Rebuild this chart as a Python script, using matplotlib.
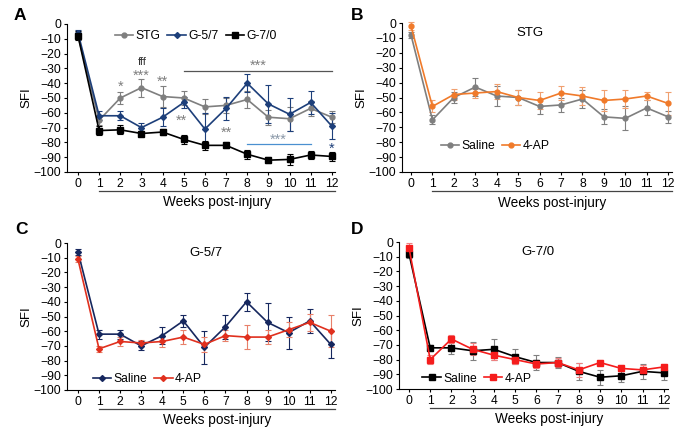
import numpy as np
import matplotlib.pyplot as plt
import matplotlib.transforms as mtransforms
from matplotlib.lines import Line2D

plt.rcParams['font.family'] = ['Liberation Sans', 'DejaVu Sans']
plt.rcParams['font.size'] = 8.5
plt.rcParams['axes.unicode_minus'] = True

weeks = np.arange(13)

# SFI means and SEMs
stg_saline = [-8, -65, -50, -43, -49, -50, -56, -55, -51, -63, -64, -57, -63]
stg_saline_err = [2, 3, 4, 6, 7, 5, 5, 5, 6, 5, 8, 5, 4]
stg_4ap = [-2, -56, -48, -47, -46, -50, -52, -47, -49, -52, -51, -49, -54]
stg_4ap_err = [3, 4, 4, 3, 5, 5, 6, 5, 6, 7, 6, 3, 8]

g57_saline = [-6, -62, -62, -70, -63, -53, -71, -57, -40, -54, -61, -53, -69]
g57_saline_err = [2, 3, 3, 3, 6, 4, 11, 8, 6, 13, 11, 8, 9]
g57_4ap = [-11, -72, -67, -68, -67, -64, -69, -63, -64, -64, -59, -54, -60]
g57_4ap_err = [2, 2, 3, 2, 4, 5, 5, 4, 8, 5, 5, 6, 11]

g70_saline = [-8, -72, -71.5, -74, -73, -78, -82, -82, -88, -92, -91.5, -88.5, -89.5]
g70_saline_err = [3, 3, 3, 2, 2, 3, 3, 2, 3, 2, 4, 3, 3]
g70_d_saline = [-8, -72, -72, -74, -73, -78, -82, -82, -88, -92, -91, -88, -89]
g70_d_saline_err = [3, 2, 4, 6, 7, 5, 5, 4, 6, 5, 4, 5, 5]
g70_4ap = [-4, -80, -66, -73, -77, -80, -83, -82, -87, -82, -86, -87, -85]
g70_4ap_err = [3, 3, 3, 4, 3, 3, 3, 3, 5, 2, 2, 3, 2]

GRAY = '#7f7f7f'
NAVY = '#1d3f7a'
NAVY2 = '#16275e'
ORANGE = '#f07a2a'
RED_C = '#e0301e'
RED_D = '#f51c1c'

W, H = 681, 430
fig = plt.figure(figsize=(W / 100, H / 100), dpi=100)


def px_axes(l, t, r, b):
    return fig.add_axes([l / W, 1 - b / H, (r - l) / W, (b - t) / H])


def series(ax, y, err, color, marker, label, ms=4, ecolor=None):
    ax.errorbar(weeks, y, yerr=err, color=color, marker=marker, ms=ms,
                lw=1.2, elinewidth=0.8, capsize=2.2, capthick=0.8,
                ecolor=ecolor or color, clip_on=False, zorder=3)
    return Line2D([], [], color=color, marker=marker, ms=ms, lw=1.2, label=label)


def style(ax, x0, x1):
    ax.set_xlim(x0, x1)
    ax.set_ylim(-100, 0)
    ax.set_yticks(np.arange(-100, 1, 10))
    ax.set_xticks(weeks)
    ax.spines['top'].set_visible(False)
    ax.spines['right'].set_visible(False)
    ax.tick_params(length=2.5, width=0.8, pad=1.5, labelsize=8.7)
    ax.set_ylabel('SFI', labelpad=1, fontsize=9.5)
    trans = mtransforms.blended_transform_factory(ax.transData, ax.transAxes)
    ax.plot([1, x1], [-0.128, -0.128], color='#444444', lw=0.9,
            transform=trans, clip_on=False)
    ax.text((1 + x1) / 2, -0.205, 'Weeks post-injury', transform=trans,
            ha='center', va='center', fontsize=9.8)


def legend(ax, handles, x, y):
    ax.legend(handles=handles, loc='center', bbox_to_anchor=(x, y), ncol=3,
              frameon=False, handlelength=1.5, handletextpad=0.2,
              columnspacing=0.6, borderaxespad=0, fontsize=8.7)


# Panel A
axA = px_axes(67, 24, 335, 172)
hA = [series(axA, stg_saline, stg_saline_err, GRAY, 'o', 'STG', ms=3.5),
      series(axA, g57_saline, g57_saline_err, NAVY, 'D', 'G-5/7', ms=3),
      series(axA, g70_saline, g70_saline_err, 'black', 's', 'G-7/0', ms=4.5)]
style(axA, -0.52, 12.15)
legend(axA, hA, 0.48, 0.92)
axA.text(3.05, -26, 'fff', ha='center', va='center', fontsize=8, color='#333333')
axA.text(3.0, -35, '***', ha='center', va='center', fontsize=10.5, color=GRAY)
axA.text(2.0, -42.5, '*', ha='center', va='center', fontsize=10.5, color=GRAY)
axA.text(4.0, -39, '**', ha='center', va='center', fontsize=10.5, color=GRAY)
axA.plot([5, 12], [-31.5, -31.5], color='#555555', lw=0.9)
axA.text(8.5, -28.5, '***', ha='center', va='center', fontsize=10.5, color=GRAY)
axA.text(4.9, -65.5, '**', ha='center', va='center', fontsize=10.5, color=GRAY)
axA.text(7.0, -73.5, '**', ha='center', va='center', fontsize=10.5, color=GRAY)
axA.plot([8, 11], [-81.3, -81.3], color='#4a90d0', lw=0.9)
axA.text(9.45, -78.5, '***', ha='center', va='center', fontsize=10.5, color='#8a98a8')
axA.text(12.0, -84.5, '*', ha='center', va='center', fontsize=10.5, color=NAVY)

# Panel B
axB = px_axes(402, 23, 672, 172)
hB = [series(axB, stg_saline, stg_saline_err, GRAY, 'o', 'Saline', ms=3.5),
      series(axB, stg_4ap, stg_4ap_err, ORANGE, 'o', '4-AP', ms=3.5, ecolor='#f0a070')]
style(axB, -0.42, 12.18)
legend(axB, hB, 0.345, 0.175)
axB.text(0.474, 0.93, 'STG', transform=axB.transAxes, ha='center', va='center', fontsize=9.5)

# Panel C
axC = px_axes(67, 243, 335, 390)
hC = [series(axC, g57_saline, g57_saline_err, NAVY2, 'D', 'Saline', ms=3),
      series(axC, g57_4ap, g57_4ap_err, RED_C, 'D', '4-AP', ms=3, ecolor='#e8806a')]
style(axC, -0.52, 12.2)
legend(axC, hC, 0.30, 0.075)
axC.text(0.52, 0.93, 'G-5/7', transform=axC.transAxes, ha='center', va='center', fontsize=9.5)

# Panel D
axD = px_axes(399, 242, 668, 389)
hD = [series(axD, g70_d_saline, g70_d_saline_err, 'black', 's', 'Saline', ms=4,
             ecolor='#808080'),
      series(axD, g70_4ap, g70_4ap_err, RED_D, 's', '4-AP', ms=4, ecolor='#f08080')]
style(axD, -0.47, 12.2)
legend(axD, hD, 0.29, 0.07)
axD.text(0.515, 0.93, 'G-7/0', transform=axD.transAxes, ha='center', va='center', fontsize=9.5)

for lab, x, y in [('A', 20, 15), ('B', 357, 15), ('C', 22, 230), ('D', 357, 229)]:
    fig.text(x / W, 1 - y / H, lab, fontsize=12.5, fontweight='bold',
             ha='center', va='center')

fig.savefig('out.png', dpi=100)
